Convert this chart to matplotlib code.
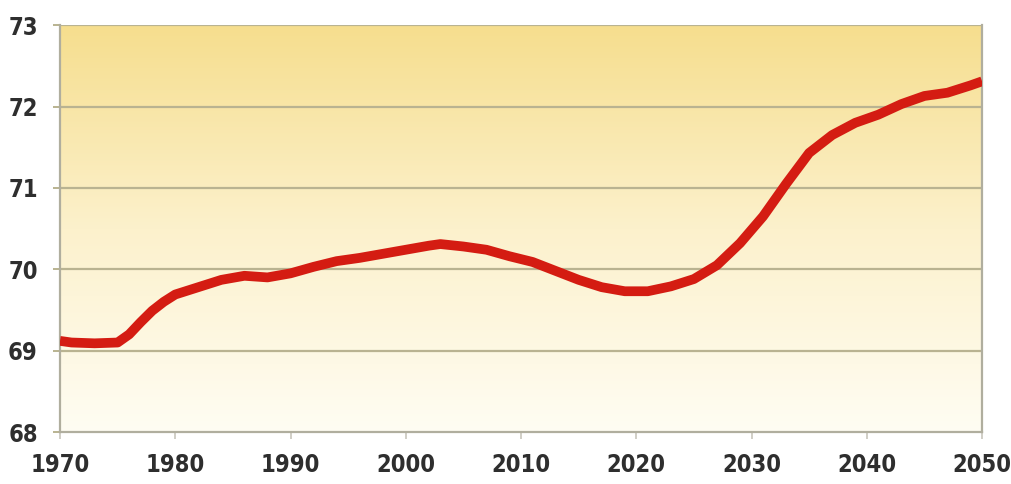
import numpy as np
import matplotlib
matplotlib.use("Agg")
import matplotlib.pyplot as plt
from matplotlib.colors import LinearSegmentedColormap

years = [1970, 1971, 1973, 1975, 1976, 1977, 1978, 1979, 1980, 1982, 1984,
         1986, 1988, 1990, 1992, 1994, 1996, 1998, 2000, 2002, 2003, 2005,
         2007, 2009, 2011, 2013, 2015, 2017, 2019, 2021, 2023, 2025, 2027,
         2029, 2031, 2033, 2035, 2037, 2039, 2041, 2043, 2045, 2047, 2049,
         2050]
life_expectancy = [69.12, 69.10, 69.09, 69.10, 69.20, 69.35, 69.49, 69.60,
                   69.69, 69.78, 69.87, 69.92, 69.90, 69.95, 70.03, 70.10,
                   70.14, 70.19, 70.24, 70.29, 70.31, 70.28, 70.24, 70.16,
                   70.09, 69.98, 69.87, 69.78, 69.73, 69.73, 69.79, 69.88,
                   70.05, 70.32, 70.65, 71.05, 71.43, 71.65, 71.80, 71.90,
                   72.03, 72.13, 72.17, 72.26, 72.31]
x_ticks = [1970, 1980, 1990, 2000, 2010, 2020, 2030, 2040, 2050]
y_ticks = [68, 69, 70, 71, 72, 73]

plt.rcParams["font.family"] = ["DejaVu Sans"]
plt.rcParams["font.stretch"] = "condensed"

fig = plt.figure(figsize=(10.12, 4.84), dpi=100)
ax = fig.add_axes([0.0593, 0.1074, 0.9111, 0.8406])

# vertical gradient background: warm yellow at the top fading to near white
cmap = LinearSegmentedColormap.from_list(
    "warm", ["#fffdf3", "#fcf1cc", "#f6de8e"])
grad = np.linspace(0, 1, 256).reshape(-1, 1)
ax.imshow(grad, cmap=cmap, aspect="auto", origin="lower",
          extent=[1970, 2050, 68, 73], zorder=0)

grid_color = "#b9b391"
for yv in y_ticks[1:]:
    ax.axhline(yv, color=grid_color, lw=1.6, zorder=1)

ax.plot(years, life_expectancy, color="#d41c12", lw=7,
        solid_capstyle="butt", solid_joinstyle="round", zorder=3)

ax.set_xlim(1970, 2050)
ax.set_ylim(68, 73)
ax.set_xticks(x_ticks)
ax.set_yticks(y_ticks)
ax.set_xticklabels([str(v) for v in x_ticks])
ax.set_yticklabels([str(v) for v in y_ticks])

for side in ["left", "bottom", "right"]:
    ax.spines[side].set_color("#b0ae9e")
    ax.spines[side].set_linewidth(1.6)
ax.spines["top"].set_visible(False)

ax.tick_params(axis="x", length=5, width=1.2, color="#c8c6bc",
               labelsize=17, labelcolor="#2e2e2e", pad=10)
ax.tick_params(axis="y", length=5, width=1.4, color="#b9b391",
               labelsize=17, labelcolor="#2e2e2e", pad=11)
for lab in ax.get_xticklabels() + ax.get_yticklabels():
    lab.set_fontweight("bold")
    lab.set_fontstretch("condensed")

fig.savefig("out.png", dpi=100, facecolor="white")
